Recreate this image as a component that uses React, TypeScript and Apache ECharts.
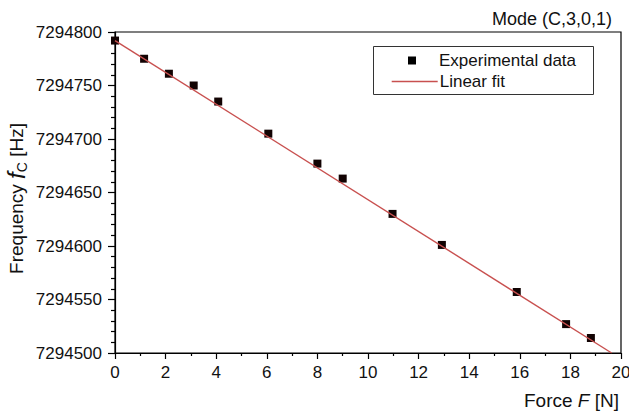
import React, { useEffect, useRef } from "react";
import * as echarts from "echarts";

const forceN = [0, 1.15, 2.13, 3.11, 4.08, 6.06, 8.0, 9.0, 10.97, 12.92, 15.88, 17.83, 18.81];
const freqHz = [7294792, 7294775, 7294761, 7294750, 7294735, 7294705, 7294677, 7294663, 7294630, 7294601, 7294557, 7294527, 7294514];
const fitForce = [0, 19.63];
const fitFreq = [7294792, 7294500];
const seriesNames = ["Experimental data", "Linear fit"];
const titleText = "Mode (C,3,0,1)";

const FONT = "'Liberation Sans', Arial, sans-serif";

export default function App() {
  const ref = useRef<HTMLDivElement>(null);
  useEffect(() => {
    if (!ref.current) return;
    const chart = echarts.init(ref.current, undefined, { renderer: "svg" });
    chart.setOption({
      animation: false,
      backgroundColor: "#fff",
      textStyle: { fontFamily: FONT, color: "#111" },
      title: {
        text: titleText,
        right: 12,
        top: 5,
        textStyle: { fontFamily: FONT, fontSize: 18, fontWeight: "normal", color: "#111" },
      },
      grid: {
        left: 115,
        top: 32,
        right: 8,
        bottom: 58,
        containLabel: false,
        outerBoundsMode: "none",
        show: true,
        borderColor: "#000",
        borderWidth: 1.2,
        backgroundColor: "transparent",
      },
      legend: [
        {
          data: [seriesNames[0]],
          left: 403,
          top: 47,
          itemWidth: 8,
          itemHeight: 8,
          icon: "rect",
          itemStyle: { color: "#000", opacity: 1 },
          textStyle: { fontFamily: FONT, fontSize: 17, color: "#111", padding: [0, 0, 0, 18] },
        },
        {
          data: [seriesNames[1]],
          left: 386,
          top: 68,
          itemWidth: 46,
          itemHeight: 14,
          itemStyle: { opacity: 0 },
          lineStyle: { color: "#c8504f", width: 1.4, opacity: 1 },
          textStyle: { fontFamily: FONT, fontSize: 17, color: "#111", padding: [0, 0, 0, -3] },
        },
      ],
      graphic: [
        {
          type: "rect",
          shape: { x: 373.5, y: 46.5, width: 220, height: 48 },
          style: { fill: "none", stroke: "#333", lineWidth: 1 },
          z: 100,
        },
      ],
      xAxis: {
        type: "value",
        min: 0,
        max: 20,
        interval: 2,
        name: "{a|Force }{i|F}{a| [N]}",
        nameLocation: "end",
        nameGap: -2,
        nameMoveOverlap: false,
        nameTextStyle: {
          align: "right",
          verticalAlign: "top",
          padding: [38, 0, 0, 0],
          rich: {
            a: { fontFamily: FONT, fontSize: 19, color: "#111" },
            i: { fontFamily: FONT, fontSize: 19, fontStyle: "italic", color: "#111" },
          },
        },
        axisLine: { show: true, onZero: false, lineStyle: { color: "#000", width: 1.2 } },
        axisTick: { show: true, inside: false, length: 6, lineStyle: { color: "#000", width: 1.2 } },
        minorTick: { show: true, splitNumber: 2, length: 3, lineStyle: { color: "#000", width: 1.2 } },
        splitLine: { show: false },
        axisLabel: { margin: 11, fontFamily: FONT, fontSize: 17, color: "#111" },
      },
      yAxis: {
        type: "value",
        min: 7294500,
        max: 7294800,
        interval: 50,
        name: "{a|Frequency }{i|f}{s|C}{a| [Hz]}",
        nameLocation: "middle",
        nameRotate: 90,
        nameGap: 86,
        nameMoveOverlap: false,
        nameTextStyle: {
          padding: [0, 12, 0, 0],
          rich: {
            a: { fontFamily: FONT, fontSize: 19, color: "#111", lineHeight: 26 },
            i: { fontFamily: FONT, fontSize: 24, fontStyle: "italic", color: "#111", lineHeight: 26 },
            s: { fontFamily: FONT, fontSize: 14, color: "#111", lineHeight: 26, verticalAlign: "bottom", padding: [10, 0, 0, 0] },
          },
        },
        axisLine: { show: true, onZero: false, lineStyle: { color: "#000", width: 1.2 } },
        axisTick: { show: true, inside: false, length: 7, lineStyle: { color: "#000", width: 1.2 } },
        minorTick: { show: true, splitNumber: 5, length: 4, lineStyle: { color: "#000", width: 1.2 } },
        splitLine: { show: false },
        axisLabel: {
          margin: 13,
          fontFamily: FONT,
          fontSize: 17,
          color: "#111",
          formatter: (v: number) => String(v),
        },
      },
      series: [
        {
          name: seriesNames[0],
          type: "scatter",
          symbol: "rect",
          symbolSize: 8,
          itemStyle: { color: "#120303", opacity: 1 },
          data: forceN.map((x, i) => [x, freqHz[i]]),
          z: 2,
        },
        {
          name: seriesNames[1],
          type: "line",
          showSymbol: false,
          symbol: "none",
          lineStyle: { color: "#c8504f", width: 1.4 },
          itemStyle: { color: "#c8504f" },
          data: fitForce.map((x, i) => [x, fitFreq[i]]),
          z: 3,
        },
      ],
    });
    return () => chart.dispose();
  }, []);
  return <div ref={ref} style={{ width: 629, height: 411, position: "absolute", left: 0, top: 0 }} />;
}
